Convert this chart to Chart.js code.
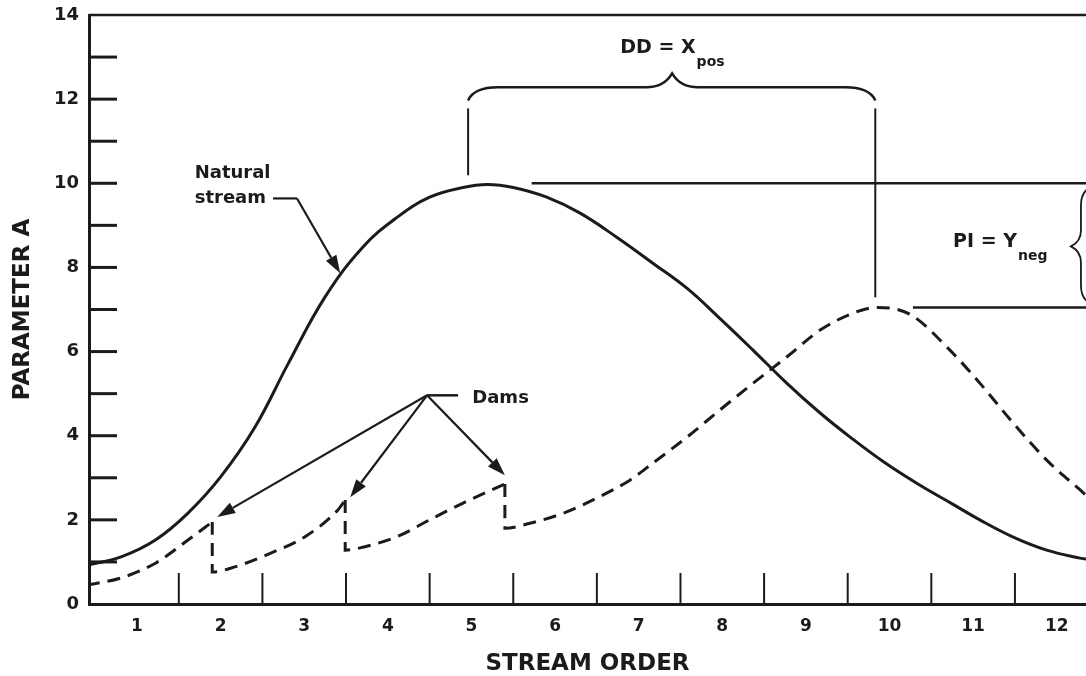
<!DOCTYPE html>
<html>
<head>
<meta charset="utf-8">
<script src="https://cdn.jsdelivr.net/npm/chart.js@4.4.1/dist/chart.umd.min.js"></script>
<style>
  html, body { margin: 0; padding: 0; background: #fff; }
  #wrap { width: 1086px; height: 676px; }
</style>
</head>
<body>
<div id="wrap"><canvas id="chart"></canvas></div>
<script>
// x labels, tick marks sit between them
const streamOrders = [1, 2, 3, 4, 5, 6, 7, 8, 9, 10, 11, 12];
const xTickMarks = [1.5, 2.5, 3.5, 4.5, 5.5, 6.5, 7.5, 8.5, 9.5, 10.5, 11.5];
const yTickMarks = [1, 2, 3, 4, 5, 6, 7, 8, 9, 10, 11, 12, 13];

// natural stream curve (stream order, parameter A)
const naturalStream = [
    [0.4, 0.92], [0.81, 1.12], [1.22, 1.52], [1.61, 2.16], [2.0, 3.02], [2.41, 4.2],
    [2.81, 5.72], [3.25, 7.3], [3.7, 8.48], [4.11, 9.19], [4.5, 9.67],
    [4.9, 9.9], [5.19, 9.97], [5.5, 9.9], [5.9, 9.67], [6.3, 9.29], [6.75, 8.7],
    [7.17, 8.1], [7.58, 7.5], [7.97, 6.79], [8.37, 6.03], [8.77, 5.25], [9.17, 4.54],
    [9.56, 3.92], [9.95, 3.35], [10.35, 2.84], [10.75, 2.38], [11.08, 2.0], [11.48, 1.59],
    [11.88, 1.28], [12.28, 1.09], [12.4, 1.06]
];

// dammed stream, one reach per dam (each starts with the drop at the dam)
const dammedReach1 = [[0.4, 0.45], [0.81, 0.62], [1.22, 0.97], [1.61, 1.52], [1.9, 1.95]];
const dammedReach2 = [[1.9, 1.95], [1.9, 0.76], [2.12, 0.85], [2.6, 1.21], [3.01, 1.6], [3.4, 2.23], [3.49, 2.47]];
const dammedReach3 = [[3.49, 2.47], [3.49, 1.28], [3.7, 1.35], [4.11, 1.6], [4.5, 2.0], [4.9, 2.4], [5.4, 2.85]];
const dammedReach4 = [
    [5.4, 2.85], [5.4, 1.8], [5.7, 1.92], [6.1, 2.16], [6.5, 2.52], [6.9, 2.95], [7.17, 3.35],
    [7.58, 3.97], [7.97, 4.61], [8.37, 5.25], [8.77, 5.87], [9.17, 6.51], [9.56, 6.91],
    [9.85, 7.05], [10.25, 6.88], [10.69, 6.1], [11.08, 5.25], [11.48, 4.3], [11.88, 3.42],
    [12.28, 2.71], [12.4, 2.5]
];

// annotation anchors, in data units
const ddBracketX = [4.96, 9.83];
const peakLevels = [10, 7.05];

const ink = '#1b1b1b';
const font = 'DejaVu Sans';

const toPoints = arr => arr.map(([x, y]) => ({ x, y }));

const solidLine = data => ({
    data: toPoints(data),
    borderColor: ink,
    borderWidth: 3,
    pointRadius: 0,
    fill: false,
    tension: 0.4
});
const dashedLine = data => ({
    ...solidLine(data),
    borderDash: [13, 8],
    cubicInterpolationMode: 'monotone'
});

function seg(ctx, x1, y1, x2, y2, w) {
    ctx.lineWidth = w;
    ctx.beginPath();
    ctx.moveTo(x1, y1);
    ctx.lineTo(x2, y2);
    ctx.stroke();
}

function arrow(ctx, x1, y1, x2, y2) {
    const ang = Math.atan2(y2 - y1, x2 - x1);
    const len = 18, half = 6;
    const bx = x2 - len * Math.cos(ang), by = y2 - len * Math.sin(ang);
    seg(ctx, x1, y1, bx, by, 2.2);
    ctx.beginPath();
    ctx.moveTo(x2, y2);
    ctx.lineTo(bx + half * Math.sin(ang), by - half * Math.cos(ang));
    ctx.lineTo(bx - half * Math.sin(ang), by + half * Math.cos(ang));
    ctx.closePath();
    ctx.fill();
}

// label with a subscript, e.g. X with "pos" below
function subText(ctx, main, sub, x, y) {
    ctx.font = `bold 19px "${font}"`;
    ctx.fillText(main, x, y);
    const w = ctx.measureText(main).width;
    ctx.font = `bold 14px "${font}"`;
    ctx.fillText(sub, x + w + 1, y + 13);
}

const annotate = {
    id: 'annotate',
    afterDraw(chart) {
        const { ctx, chartArea: a } = chart;
        const X = v => chart.scales.x.getPixelForValue(v);
        const Y = v => chart.scales.y.getPixelForValue(v);
        ctx.save();
        ctx.strokeStyle = ink;
        ctx.fillStyle = ink;
        ctx.lineCap = 'butt';

        // frame top and inward tick marks
        seg(ctx, a.left, a.top, a.right, a.top, 2.5);
        yTickMarks.forEach(v => seg(ctx, a.left, Y(v), a.left + 28, Y(v), 3));
        xTickMarks.forEach(v => seg(ctx, X(v), a.bottom, X(v), a.bottom - 31, 2));

        // peak levels
        seg(ctx, X(5.72), Y(peakLevels[0]), a.right, Y(peakLevels[0]), 2.5);
        seg(ctx, X(10.28), Y(peakLevels[1]), a.right, Y(peakLevels[1]), 2.5);

        // DD bracket
        const l = X(ddBracketX[0]), r = X(ddBracketX[1]);
        const yb = Y(11.97), yl = Y(12.28), yt = Y(12.61), mid = X(7.4);
        seg(ctx, l, Y(11.78), l, Y(10.19), 2);
        seg(ctx, r, Y(11.78), r, Y(7.29), 2);
        ctx.lineWidth = 2.5;
        ctx.beginPath();
        ctx.moveTo(l, yb);
        ctx.quadraticCurveTo(l + 6, yl, l + 30, yl);
        ctx.lineTo(mid - 26, yl);
        ctx.quadraticCurveTo(mid - 8, yl, mid, yt);
        ctx.quadraticCurveTo(mid + 8, yl, mid + 26, yl);
        ctx.lineTo(r - 30, yl);
        ctx.quadraticCurveTo(r - 6, yl, r, yb);
        ctx.stroke();

        // PI brace at the right edge
        const bt = Y(peakLevels[0]), bb = Y(peakLevels[1]), bm = Y(8.5);
        const bx = X(12.17), bc = bx + 10;
        ctx.lineWidth = 1.8;
        ctx.beginPath();
        ctx.moveTo(bc + 14, bt + 2);
        ctx.quadraticCurveTo(bc, bt + 6, bc, bt + 22);
        ctx.lineTo(bc, bm - 16);
        ctx.quadraticCurveTo(bc, bm - 5, bx, bm);
        ctx.quadraticCurveTo(bc, bm + 5, bc, bm + 16);
        ctx.lineTo(bc, bb - 22);
        ctx.quadraticCurveTo(bc, bb - 6, bc + 14, bb - 2);
        ctx.stroke();

        // labels
        ctx.textAlign = 'left';
        ctx.textBaseline = 'alphabetic';
        subText(ctx, 'DD = X', 'pos', X(6.78), Y(13.09));
        subText(ctx, 'PI = Y', 'neg', X(10.76), Y(8.48));

        ctx.font = `bold 18px "${font}"`;
        ctx.fillText('Natural', X(1.69), Y(10.12));
        ctx.fillText('stream', X(1.69), Y(9.52));
        ctx.fillText('Dams', X(5.01), Y(4.77));

        // natural stream pointer
        seg(ctx, X(2.627), Y(9.64), X(2.914), Y(9.64), 2.2);
        arrow(ctx, X(2.914), Y(9.64), X(3.43), Y(7.86));

        // dam pointers
        const ox = X(4.469), oy = Y(4.96);
        seg(ctx, ox, oy, X(4.84), oy, 2.5);
        arrow(ctx, ox, oy, X(1.96), Y(2.07));
        arrow(ctx, ox, oy, X(3.55), Y(2.54));
        arrow(ctx, ox, oy, X(5.4), Y(3.06));
        ctx.restore();
    }
};

new Chart(document.getElementById('chart'), {
    type: 'line',
    data: {
        datasets: [
            solidLine(naturalStream),
            dashedLine(dammedReach1),
            dashedLine(dammedReach2),
            dashedLine(dammedReach3),
            dashedLine(dammedReach4)
        ]
    },
    options: {
        responsive: true,
        maintainAspectRatio: false,
        animation: false,
        layout: { padding: { top: 15, right: 0, bottom: 0, left: 0 } },
        plugins: {
            legend: { display: false },
            tooltip: { enabled: false }
        },
        scales: {
            x: {
                type: 'linear',
                min: 0.426,
                max: 12.35,
                afterBuildTicks: scale => { scale.ticks = streamOrders.map(v => ({ value: v })); },
                afterFit: scale => {
                    scale.height = 72;
                    scale.paddingLeft = 0;
                    scale.paddingRight = 0;
                },
                grid: { display: false, drawTicks: false },
                border: { display: true, color: ink, width: 3 },
                ticks: {
                    color: ink,
                    padding: 12,
                    maxRotation: 0,
                    font: { family: font, size: 17, weight: 'bold' }
                },
                title: {
                    display: true,
                    text: 'STREAM ORDER',
                    color: ink,
                    padding: { top: 0, bottom: -2 },
                    font: { family: font, size: 23, weight: 'bold' }
                }
            },
            y: {
                min: 0,
                max: 14,
                afterFit: scale => {
                    scale.width = 89;
                    scale.paddingTop = 0;
                    scale.paddingBottom = 0;
                },
                grid: { display: false, drawTicks: false },
                border: { display: true, color: ink, width: 3 },
                ticks: {
                    stepSize: 2,
                    color: ink,
                    padding: 10,
                    font: { family: font, size: 18, weight: 'bold' }
                },
                title: {
                    display: true,
                    text: 'PARAMETER A',
                    color: ink,
                    padding: { top: 9, bottom: 0 },
                    font: { family: font, size: 23, weight: 'bold' }
                }
            }
        }
    },
    plugins: [annotate]
});
</script>
</body>
</html>
